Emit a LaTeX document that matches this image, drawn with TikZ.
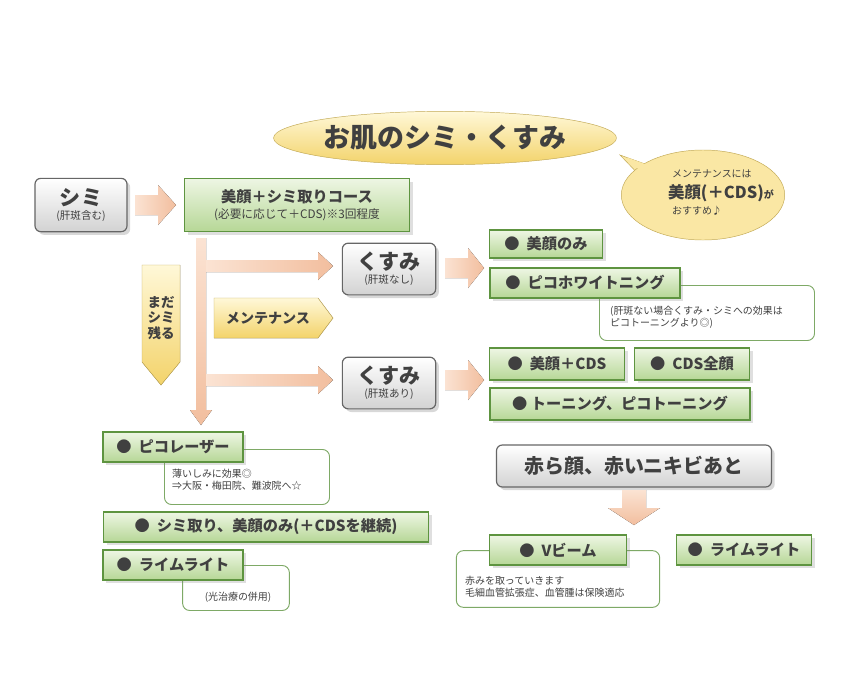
\documentclass[tikz,border=0pt]{standalone}
\usepackage{fontspec}
\setmainfont{Noto Sans CJK JP}
\usetikzlibrary{positioning,shapes.geometric,shadows}
\definecolor{grnline}{HTML}{5E9440}
\definecolor{grntop}{HTML}{EEF6E4}
\definecolor{grnbot}{HTML}{B6D796}
\definecolor{peach}{HTML}{F2BE9E}
\definecolor{peachlt}{HTML}{FBE3D3}
\definecolor{ylwtop}{HTML}{FFF8D8}
\definecolor{ylwbot}{HTML}{F3D36A}
\definecolor{bubfill}{HTML}{FAE7A4}
\definecolor{txt}{HTML}{404040}
\tikzset{
  px/.style={x=0.03cm,y=-0.03cm},
  grnbox/.style={draw=grnline,line width=1.2pt,top color=grntop,bottom color=grnbot,
    font=\bfseries\fontsize{13}{15}\selectfont,text=txt,inner sep=0pt,drop shadow={opacity=0.25}},
  graybox/.style={draw=gray!80!black,line width=1pt,rounded corners=5pt,top color=white,
    bottom color=gray!35,text=txt,align=center,inner sep=0pt,drop shadow={opacity=0.3}},
  note/.style={draw=grnline!80,line width=0.8pt,rounded corners=6pt,fill=white},
  notetext/.style={font=\fontsize{8.5}{10.5}\selectfont,text=txt,align=left,anchor=north west},
  blk/.style={left color=peachlt,right color=peach,draw=none},
  blkv/.style={top color=peachlt,bottom color=peach,draw=none},
  ylw/.style={top color=ylwtop,bottom color=ylwbot,draw=ylwbot!80!black,line width=0.4pt},
  bub/.style={fill=bubfill,draw=ylwbot!80!black,line width=0.4pt},
}
\begin{document}
\begin{tikzpicture}[px]
  \useasboundingbox (0,0) rectangle (841,695);
  \fill[white] (0,0) rectangle (841,695);

  % title and bubble
  \node[ellipse,ylw,inner sep=0pt,minimum width=9.6cm,minimum height=1.6cm,
    font=\bfseries\fontsize{23}{26}\selectfont,text=txt] (title) at (445,138) {お肌のシミ・くすみ};
  \draw[bub] (620,155) -- (662,170) -- (668,205) -- cycle;
  \node[ellipse,bub,minimum width=4.9cm,minimum height=2.7cm,inner sep=0pt] (bubble) at (703,195) {};
  \fill[bubfill] (627,157.5) -- (664,171) -- (669,200) -- cycle;
  \node[font=\fontsize{8.5}{10}\selectfont,text=txt,anchor=west] (bub1) at (668,174) {メンテナンスには};
  \node[font=\bfseries\fontsize{14}{16}\selectfont,text=txt,anchor=west] (bub2) at (664,193)
    {美顔(＋CDS)\fontsize{8.5}{10}\selectfont が};
  \node[font=\fontsize{8.5}{10}\selectfont,text=txt,anchor=west] (bub3) at (668,211) {おすすめ♪};

  % first row
  \node[graybox,minimum width=2.76cm,minimum height=1.6cm] (shimi) at (81,205)
    {{\bfseries\fontsize{18}{20}\selectfont シミ}\\[0pt]{\fontsize{9}{10}\selectfont (肝斑含む)}};
  \fill[blk] (135,195) -- (158,195) -- (158,185) -- (176,205) -- (158,225) -- (158,215) -- (135,215) -- cycle;
  \node[grnbox,minimum width=6.75cm,minimum height=1.6cm,align=center] (course) at (297,205)
    {美顔＋シミ取りコース\\[-1pt]{\mdseries\fontsize{10}{12}\selectfont (必要に応じて＋CDS)※3回程度}};

  % main trunk and branches
  \fill[blkv] (196,238) -- (206,238) -- (206,410) -- (212,410) -- (201,425) -- (190,410) -- (196,410) -- cycle;
  \fill[blk] (206,260) -- (318,260) -- (318,252) -- (333,266) -- (318,280) -- (318,272) -- (206,272) -- cycle;
  \fill[blk] (206,374) -- (318,374) -- (318,366) -- (333,380) -- (318,394) -- (318,386) -- (206,386) -- cycle;
  \fill[ylw] (142,265) -- (180,265) -- (180,362) -- (161,385) -- (142,362) -- cycle;
  \node[font=\bfseries\fontsize{11.5}{13.5}\selectfont,text=txt,align=center] (mada) at (161,318) {まだ\\シミ\\残る};
  \fill[ylw] (214,298) -- (318,298) -- (333,318) -- (318,338) -- (214,338) -- cycle;
  \node[font=\bfseries\fontsize{12}{14}\selectfont,text=txt] (maint) at (268,318) {メンテナンス};

  % kusumi boxes
  \node[graybox,minimum width=2.8cm,minimum height=1.55cm] (kus1) at (389,269)
    {{\bfseries\fontsize{18}{20}\selectfont くすみ}\\[0pt]{\fontsize{9}{10}\selectfont (肝斑なし)}};
  \node[graybox,minimum width=2.8cm,minimum height=1.55cm] (kus2) at (389,383)
    {{\bfseries\fontsize{18}{20}\selectfont くすみ}\\[0pt]{\fontsize{9}{10}\selectfont (肝斑あり)}};
  \fill[blk] (445,258) -- (468,258) -- (468,248) -- (484,268) -- (468,288) -- (468,278) -- (445,278) -- cycle;
  \fill[blk] (445,370) -- (468,370) -- (468,360) -- (484,380) -- (468,400) -- (468,390) -- (445,390) -- cycle;

  % right column
  \node[note,minimum width=6.45cm,minimum height=1.65cm] (n1) at (707,313) {};
  \node[notetext] (n1t) at (606,302) {(肝斑ない場合くすみ・シミへの効果は\\ピコトーニングより◎)};
  \node[grnbox,minimum width=3.4cm,minimum height=0.84cm] (biganmi) at (546,244) {● \ 美顔のみ};
  \node[grnbox,minimum width=5.7cm,minimum height=0.9cm] (pwhite) at (585,283) {● \ ピコホワイトニング};
  \node[grnbox,minimum width=4.05cm,minimum height=0.96cm] (bcds) at (557,364) {● \ 美顔＋CDS};
  \node[grnbox,minimum width=3.45cm,minimum height=0.96cm] (cdsall) at (692,364) {● \ CDS全顔};
  \node[grnbox,minimum width=7.8cm,minimum height=0.96cm] (toning) at (620,404) {● トーニング、ピコトーニング};

  % lower left
  \node[note,minimum width=4.95cm,minimum height=1.65cm] (n2) at (247,477) {};
  \node[notetext] (n2t) at (168,465) {薄いしみに効果◎\\⇒大阪・梅田院、難波院へ☆};
  \node[grnbox,minimum width=4.2cm,minimum height=0.9cm] (pico) at (173,447) {● \ ピコレーザー};
  \node[grnbox,minimum width=9.75cm,minimum height=0.9cm] (shimitori) at (266,527) {● \ シミ取り、美顔のみ(＋CDSを継続)};
  \node[note,minimum width=3.2cm,minimum height=1.35cm] (n3) at (236,588) {};
  \node[font=\fontsize{8.5}{10}\selectfont,text=txt] (n3t) at (238,597) {(光治療の併用)};
  \node[grnbox,minimum width=4.2cm,minimum height=0.9cm] (lime1) at (173,565) {● \ ライムライト};

  % lower right
  \node[graybox,minimum width=8.25cm,minimum height=1.26cm,
    font=\bfseries\fontsize{17}{19}\selectfont] (akara) at (634,466) {赤ら顔、赤いニキビあと};
  \fill[blkv] (622,490) -- (646,490) -- (646,508) -- (660,508) -- (634,525) -- (608,508) -- (622,508) -- cycle;
  \node[note,minimum width=6.1cm,minimum height=1.7cm] (n4) at (558,579) {};
  \node[notetext] (n4t) at (461,572) {赤みを取っていきます\\毛細血管拡張症、血管腫は保険適応};
  \node[grnbox,minimum width=4.1cm,minimum height=0.9cm] (vbeam) at (558,550) {● \ Vビーム};
  \node[grnbox,minimum width=4.05cm,minimum height=0.9cm] (lime2) at (744,550) {● \ ライムライト};
\end{tikzpicture}
\end{document}
